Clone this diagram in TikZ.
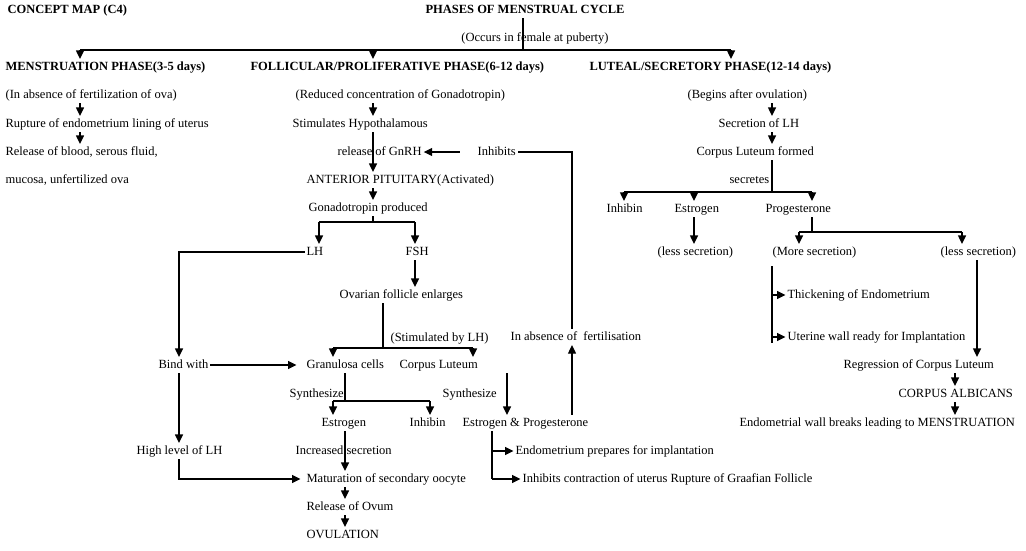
\documentclass[tikz,border=0pt]{standalone}
\usepackage{fontspec}
\setmainfont{Liberation Serif}
\usetikzlibrary{arrows.meta}
\begin{document}
\begin{tikzpicture}[x=1pt,y=-1pt,line width=1.2pt,
 tx/.style={anchor=west,inner sep=1.5pt,text height=9pt,text depth=3pt,font=\fontsize{12.5}{15}\selectfont},
 bt/.style={tx,font=\fontsize{12.5}{15}\selectfont\bfseries},
 arr/.style={-{Triangle[length=8.5pt,width=8pt]}}]
\useasboundingbox[fill=white] (0,0) rectangle (1026,550);
% titles
\node[bt] (cm) at (5.5,10) {CONCEPT MAP (C4)};
\node[bt,anchor=center] (title) at (525,10) {PHASES OF MENSTRUAL CYCLE};
\node[tx,anchor=center] (occ) at (535,38) {(Occurs in female at puberty)};
\node[bt] (mp) at (3.5,67) {MENSTRUATION PHASE(3-5 days)};
\node[bt] (fp) at (248.5,67) {FOLLICULAR/PROLIFERATIVE PHASE(6-12 days)};
\node[bt] (lp) at (587.5,67) {LUTEAL/SECRETORY PHASE(12-14 days)};
% columns
\coordinate (colA) at (80,0);
\coordinate (colB) at (373,0);
\coordinate (colC) at (772,0);
\coordinate (jt) at (523,50);
\coordinate (hA) at (80,50);
\coordinate (hB) at (373,50);
\coordinate (hC) at (731,50);
\draw (title.south -| jt) -- (jt);
\draw (hA) -- (hC);
\draw[arr] (hA) -- (hA |- mp.north);
\draw[arr] (hB) -- (hB |- fp.north);
\draw[arr] (hC) -- (hC |- lp.north);
% menstruation column
\node[tx] (m1) at (3.5,95) {(In absence of fertilization of ova)};
\node[tx] (m2) at (3.5,124) {Rupture of endometrium lining of uterus};
\node[tx] (m3) at (3.5,152) {Release of blood, serous fluid,};
\node[tx] (m4) at (3.5,180) {mucosa, unfertilized ova};
\draw[arr] (m1.south -| colA) -- (m2.north -| colA);
\draw[arr] (m2.south -| colA) -- (m3.north -| colA);
% follicular column
\node[tx] (f1) at (293.5,95) {(Reduced concentration of Gonadotropin)};
\node[tx] (f2) at (290.5,124) {Stimulates Hypothalamous};
\node[tx] (f3) at (335.5,152) {release of GnRH};
\node[tx] (f4) at (304.5,180) {ANTERIOR PITUITARY(Activated)};
\node[tx] (f5) at (306.5,208) {Gonadotropin produced};
\node[tx] (lh) at (304.5,252) {LH};
\node[tx] (fsh) at (403.5,252) {FSH};
\node[tx] (ofe) at (337.5,295) {Ovarian follicle enlarges};
\node[tx] (stl) at (388.5,338) {(Stimulated by LH)};
\node[tx] (gran) at (304.5,365) {Granulosa cells};
\node[tx] (cl) at (397.5,365) {Corpus Luteum};
\node[tx] (bind) at (156.5,365) {Bind with};
\node[tx] (syn1) at (287.5,394) {Synthesize};
\node[tx] (syn2) at (440.5,394) {Synthesize};
\node[tx] (est) at (319.5,423) {Estrogen};
\node[tx] (inh) at (407.5,423) {Inhibin};
\node[tx] (ep) at (460.5,423) {Estrogen \& Progesterone};
\node[tx] (hl) at (134.5,451) {High level of LH};
\node[tx] (incs) at (293.5,451) {Increased secretion};
\node[tx] (mat) at (304.5,479) {Maturation of secondary oocyte};
\node[tx] (rel) at (304.5,507) {Release of Ovum};
\node[tx] (ovu) at (304.5,535) {OVULATION};
\node[tx] (endp) at (513.5,451) {Endometrium prepares for implantation};
\node[tx] (inhc) at (520.5,479) {Inhibits contraction of uterus Rupture of Graafian Follicle};
\node[tx] (inf) at (508.5,337) {In absence of\ \ fertilisation};
\node[tx] (inhibits) at (475.5,152) {Inhibits};
\draw[arr] (f1.south -| colB) -- (f2.north -| colB);
\draw[arr] (f2.south -| colB) -- (f4.north -| colB);
\draw[arr] (f4.south -| colB) -- (f5.north -| colB);
\coordinate (gb) at (373,222);
\coordinate (gbl) at (319,222);
\coordinate (gbr) at (415,222);
\draw (f5.south -| gb) -- (gb);
\draw (gbl) -- (gbr);
\draw[arr] (gbl) -- (gbl |- lh.north);
\draw[arr] (gbr) -- (gbr |- fsh.north);
\coordinate (xb) at (179,0);
\draw[arr] (lh.west) -| (bind.north -| xb);
\draw[arr] (fsh.south -| gbr) -- (ofe.north -| gbr);
\coordinate (ob) at (383,348);
\coordinate (obl) at (333,348);
\coordinate (obr) at (473,348);
\draw (ofe.south -| ob) -- (ob);
\draw (obl) -- (obr);
\draw[arr] (obl) -- (obl |- gran.north);
\draw[arr] (obr) -- (obr |- cl.north);
\draw[arr,shorten >=8pt] (bind.east) -- (gran.west);
\draw[arr] (bind.south -| xb) -- (hl.north -| xb);
\draw[arr,shorten >=4pt] (hl.south -| xb) |- (mat.west);
\coordinate (gs) at (345,401);
\coordinate (gsl) at (333,401);
\coordinate (gsr) at (430,401);
\draw (gran.south -| gs) -- (gs);
\draw (gsl) -- (gsr);
\draw[arr] (gsl) -- (gsl |- est.north);
\draw[arr] (gsr) -- (gsr |- inh.north);
\draw[arr] (est.south -| gs) -- (mat.north -| gs);
\draw[arr] (mat.south -| gs) -- (rel.north -| gs);
\draw[arr] (rel.south -| gs) -- (ovu.north -| gs);
\coordinate (clx) at (507,0);
\draw[arr] (cl.south -| clx) -- (ep.north -| clx);
\coordinate (eb) at (492,0);
\draw (ep.south -| eb) -- (eb |- inhc.west);
\draw[arr] (eb |- endp.west) -- (endp.west);
\draw[arr] (eb |- inhc.west) -- (inhc.west);
\coordinate (fx) at (572,0);
\draw[arr] (ep.north -| fx) -- (inf.south -| fx);
\draw (inf.north -| fx) |- (inhibits.east);
\draw[arr,shorten <=16pt] (inhibits.west) -- (f3.east);
% luteal column
\node[tx] (l1) at (685.5,95) {(Begins after ovulation)};
\node[tx] (l2) at (716.5,124) {Secretion of LH};
\node[tx] (l3) at (694.5,152) {Corpus Luteum formed};
\node[tx] (sec) at (727.5,180) {secretes};
\node[tx] (linh) at (604.5,209) {Inhibin};
\node[tx] (lest) at (672.5,209) {Estrogen};
\node[tx] (prog) at (763.5,209) {Progesterone};
\node[tx] (lless) at (655.5,252) {(less secretion)};
\node[tx] (more) at (770.5,252) {(More secretion)};
\node[tx] (less2) at (938.5,252) {(less secretion)};
\node[tx] (thick) at (785.5,295) {Thickening of Endometrium};
\node[tx] (uter) at (785.5,337) {Uterine wall ready for Implantation};
\node[tx] (reg) at (841.5,365) {Regression of Corpus Luteum};
\node[tx] (alb) at (896.5,394) {CORPUS ALBICANS};
\node[tx] (endw) at (737.5,423) {Endometrial wall breaks leading to MENSTRUATION};
\draw[arr] (l1.south -| colC) -- (l2.north -| colC);
\draw[arr] (l2.south -| colC) -- (l3.north -| colC);
\coordinate (sb) at (772,192);
\coordinate (sbl) at (624,192);
\coordinate (sbm) at (694,192);
\coordinate (sbr) at (812,192);
\draw (l3.south -| sb) -- (sb);
\draw (sbl) -- (sbr);
\draw[arr] (sbl) -- (sbl |- linh.north);
\draw[arr] (sbm) -- (sbm |- lest.north);
\draw[arr] (sbr) -- (sbr |- prog.north);
\draw[arr] (lest.south -| sbm) -- (lless.north -| sbm);
\coordinate (pb) at (812,232);
\coordinate (pbl) at (799,232);
\coordinate (pbr) at (962,232);
\draw (prog.south -| pb) -- (pb);
\draw (pbl) -- (pbr);
\draw[arr] (pbl) -- (pbl |- more.north);
\draw[arr] (pbr) -- (pbr |- less2.north);
\coordinate (mv) at (772,343);
\draw[shorten <=6pt] (more.south -| mv) -- (mv);
\draw[arr] (mv |- thick.west) -- (thick.west);
\draw[arr] (mv |- uter.west) -- (uter.west);
\coordinate (rx) at (977,0);
\draw[arr] (less2.south -| rx) -- (reg.north -| rx);
\coordinate (ax) at (955,0);
\draw[arr] (reg.south -| ax) -- (alb.north -| ax);
\draw[arr] (alb.south -| ax) -- (endw.north -| ax);
\end{tikzpicture}
\end{document}
